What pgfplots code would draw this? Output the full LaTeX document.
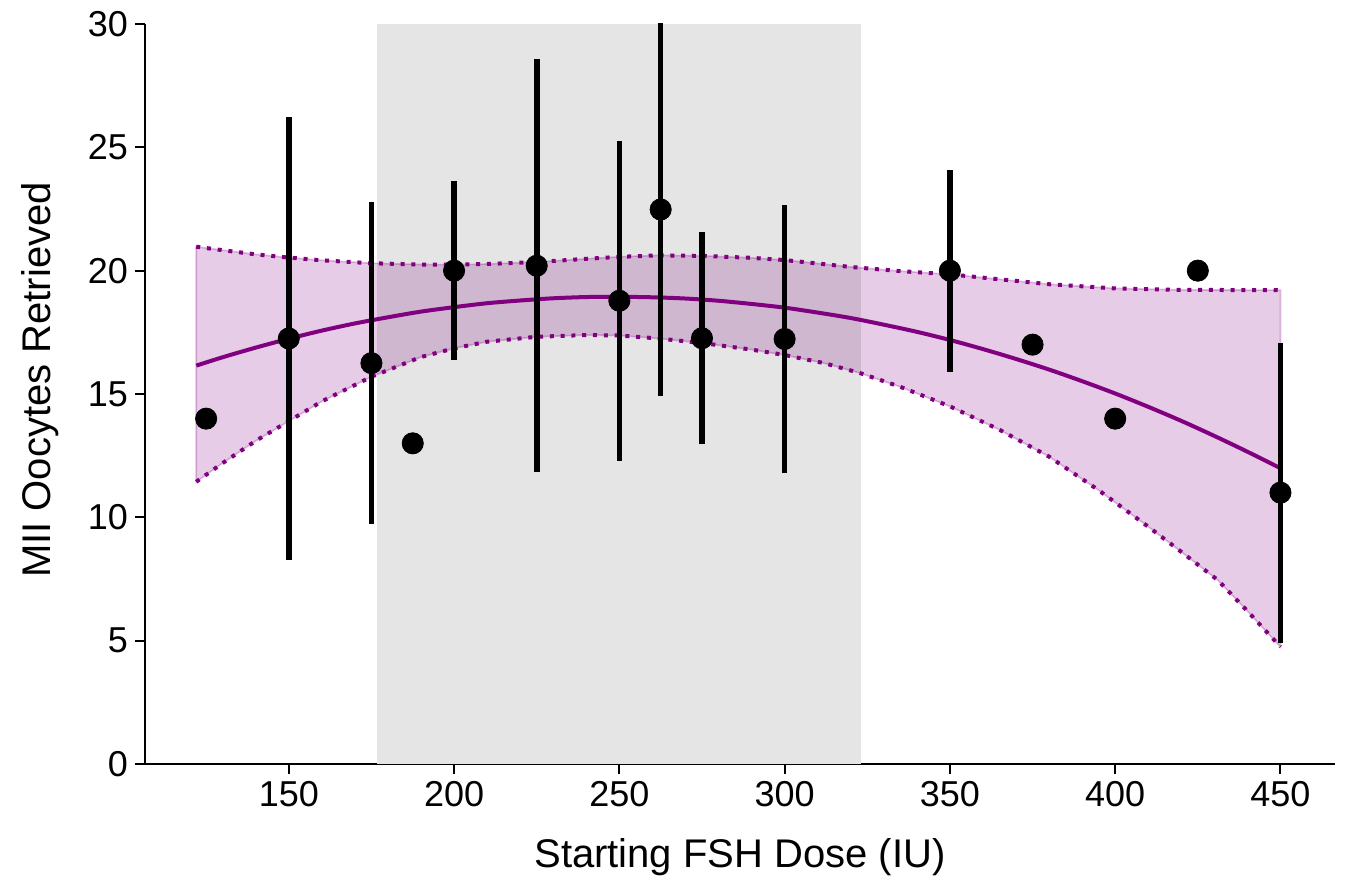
\documentclass[border=0pt]{standalone}
\usepackage{pgfplots}
\pgfplotsset{compat=1.18}
\usepackage{pgfplotstable}
\usepackage{fontspec}
\setmainfont{Liberation Sans}
\usetikzlibrary{calc}
\definecolor{fitpurple}{HTML}{800080}
\definecolor{bandgrey}{HTML}{E5E5E5}

\pgfplotstableread{
x y e
125 14 0
150 17.25 8.96
175 16.25 6.53
187.5 13 0
200 20 3.63
225 20.2 8.38
250 18.78 6.48
262.5 22.48 7.57
275 17.26 4.3
300 17.23 5.44
350 20 4.1
375 17 0
400 14 0
425 20 0
450 11 6.08
}\ptstab

\pgfplotstableread{
x y
122 16.15
130 16.49
140 16.88
150 17.24
160 17.57
170 17.86
180 18.11
190 18.34
200 18.52
210 18.68
220 18.79
230 18.88
240 18.93
250 18.94
260 18.92
270 18.87
280 18.78
290 18.65
300 18.50
310 18.30
320 18.08
330 17.81
340 17.52
350 17.19
360 16.82
370 16.42
380 15.99
390 15.52
400 15.02
410 14.48
420 13.91
430 13.30
440 12.66
450 11.99
}\fittab

\pgfplotstableread{
x y
122 20.97
130 20.83
140 20.66
150 20.53
160 20.42
175 20.30
190 20.25
200 20.24
210 20.27
225 20.35
240 20.48
250 20.56
262 20.62
275 20.60
290 20.52
300 20.43
320 20.15
335 19.98
350 19.85
365 19.65
380 19.45
400 19.28
420 19.22
450 19.21
}\uptab

\pgfplotstableread{
x y
122 11.44
130 12.2
140 13.1
150 13.9
160 14.7
175 15.7
190 16.5
200 16.85
210 17.12
225 17.32
240 17.39
250 17.37
262 17.25
276 17.05
290 16.8
300 16.58
312 16.25
323 15.84
335 15.29
350 14.5
365 13.55
380 12.46
395 11.1
410 9.62
420 8.6
431 7.46
440 6.2
450 4.75
}\lowtab

\begin{document}
\begin{tikzpicture}
\begin{axis}[
  name=ax,
  scale only axis,
  width=595pt, height=370pt,
  xmin=106.5, xmax=466.5,
  ymin=0, ymax=30,
  axis x line*=bottom, axis y line*=left,
  axis line style={-, line width=1pt, black},
  xtick={150,200,...,450},
  ytick={0,5,...,30},
  tick align=outside,
  major tick length=5pt,
  tick style={line width=1pt, black},
  ticklabel style={font=\fontsize{18}{20}\selectfont},
  /pgf/number format/assume math mode=true,
  xlabel={Starting FSH Dose (IU)},
  ylabel={MII Oocytes Retrieved},
  label style={font=\fontsize{20}{22}\selectfont},
  xlabel style={at={(axis description cs:0.5,-0.1257)}, anchor=center},
  ylabel style={at={(axis description cs:-0.0882,0.519)}, anchor=center},
  clip=true,
]
% highlighted dose range
\addplot[fill=bandgrey, draw=none] coordinates {(176.6,0) (323.2,0) (323.2,30) (176.6,30)} -- cycle;

% confidence band (upper edge left to right, lower edge right to left)
\addplot[fill=fitpurple, fill opacity=0.2, draw=fitpurple, draw opacity=0.25, line width=0.8pt] coordinates {
(122,20.97) (130,20.83) (140,20.66) (150,20.53) (160,20.42) (175,20.30) (190,20.25) (200,20.24)
(210,20.27) (225,20.35) (240,20.48) (250,20.56) (262,20.62) (275,20.60) (290,20.52) (300,20.43)
(320,20.15) (335,19.98) (350,19.85) (365,19.65) (380,19.45) (400,19.28) (420,19.22) (450,19.21)
(450,4.75) (440,6.2) (431,7.46) (420,8.6) (410,9.62) (395,11.1) (380,12.46) (365,13.55) (350,14.5)
(335,15.29) (323,15.84) (312,16.25) (300,16.58) (290,16.8) (276,17.05) (262,17.25) (250,17.37)
(240,17.39) (225,17.32) (210,17.12) (200,16.85) (190,16.5) (175,15.7) (160,14.7) (150,13.9)
(140,13.1) (130,12.2) (122,11.44)
} -- cycle;

\addplot[fitpurple, line width=2pt, dash pattern=on 2pt off 3.4pt] table[x=x,y=y] {\uptab};
\addplot[fitpurple, line width=2pt, dash pattern=on 2pt off 3.4pt] table[x=x,y=y] {\lowtab};

% fit
\addplot[fitpurple, line width=2pt, smooth] table[x=x,y=y] {\fittab};

% data with error bars
\addplot[only marks, mark=*, mark size=5.3pt, black,
  error bars/.cd, y dir=both, y explicit, error mark=none,
  error bar style={line width=2.8pt, black}]
  table[x=x, y=y, y error=e] {\ptstab};
\end{axis}
\pgfresetboundingbox
\path ($(ax.south west)+(-72.5pt,-61.5pt)$) rectangle ($(ax.north east)+(7.5pt,12pt)$);
\end{tikzpicture}
\end{document}
